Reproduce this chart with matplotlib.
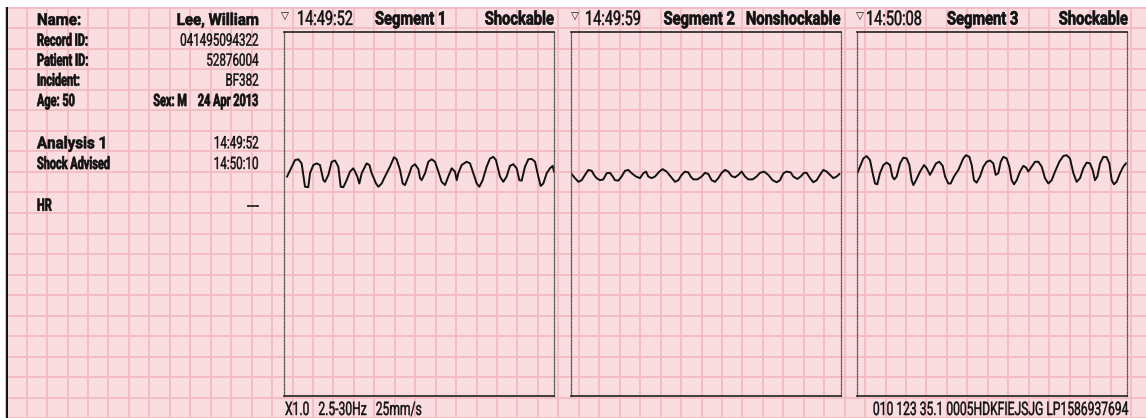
import numpy as np
import matplotlib
matplotlib.use("Agg")
import matplotlib.pyplot as plt
import matplotlib.patheffects as pe
from matplotlib.patches import Rectangle
from matplotlib.transforms import Affine2D

W, H = 1146, 418
PAPER = "#fadde1"
GRID = "#f4bdc4"
INK = "#111111"

# patient block
info_labels = ["Record ID:", "Patient ID:", "Incident:"]
info_values = ["041495094322", "52876004", "BF382"]
patient_name = "Lee, William"
age_text = "Age: 50"
sex_date = "Sex: M    24 Apr 2013"
analysis_title = "Analysis 1"
analysis_time = "14:49:52"
advice_text = "Shock Advised"
advice_time = "14:50:10"
hr_value = "---"

# segment headers
seg_times = ["14:49:52", "14:49:59", "14:50:08"]
seg_names = ["Segment 1", "Segment 2", "Segment 3"]
seg_rhythm = ["Shockable", "Nonshockable", "Shockable"]
footer_left = "X1.0   2.5-30Hz   25mm/s"
footer_right = "010 123 35.1 0005HDKFIEJSJG LP1586937694"

# ECG strips: time (s) and amplitude (mV)
t1 = [0.03, 0.107, 0.14, 0.172, 0.205, 0.237, 0.254, 0.286, 0.319, 0.351,
      0.384, 0.40, 0.433, 0.465, 0.498, 0.53, 0.553, 0.579, 0.611, 0.644,
      0.676, 0.693, 0.715, 0.735, 0.758, 0.806, 0.833, 0.855, 0.898, 0.92,
      0.953, 0.985, 1.034, 1.073, 1.099, 1.132, 1.158, 1.18, 1.213, 1.246,
      1.278, 1.311, 1.327, 1.343, 1.376, 1.408, 1.441, 1.473, 1.506, 1.538,
      1.571, 1.603, 1.636, 1.668, 1.685, 1.701, 1.733, 1.782, 1.815, 1.847,
      1.88, 1.906, 1.938, 1.977, 2.01, 2.042, 2.068, 2.107, 2.14, 2.172,
      2.205, 2.237, 2.27, 2.296, 2.319, 2.351, 2.384, 2.416, 2.449, 2.481,
      2.504, 2.53, 2.563, 2.595, 2.621, 2.634]
v1 = [-0.11, 0.29, 0.31, 0.21, -0.36, -0.37, -0.03, 0.17, 0.21, 0.17,
      -0.20, -0.24, -0.07, 0.25, 0.28, 0.13, -0.36, -0.37, -0.20, 0.01,
      0.09, 0.01, -0.11, -0.28, -0.03, 0.21, 0.17, -0.03, -0.28, -0.36,
      -0.28, -0.11, 0.13, 0.36, 0.31, 0.05, -0.28, -0.32, -0.11, 0.13,
      0.19, 0.07, -0.15, -0.20, -0.03, 0.25, 0.31, 0.25, 0.01, -0.24,
      -0.32, -0.11, 0.09, 0.01, -0.20, -0.03, 0.17, 0.25, 0.21, -0.03,
      -0.28, -0.36, -0.20, 0.13, 0.33, 0.37, 0.29, -0.11, -0.24, -0.11,
      0.15, 0.19, 0.09, -0.20, -0.21, 0.13, 0.31, 0.32, 0.25, -0.11,
      -0.34, -0.28, -0.03, 0.09, 0.15, 0.01]

t2 = [0.0, 0.039, 0.072, 0.104, 0.137, 0.169, 0.202, 0.224, 0.25, 0.283,
      0.315, 0.348, 0.38, 0.407, 0.429, 0.462, 0.494, 0.527, 0.559, 0.592,
      0.634, 0.673, 0.706, 0.732, 0.754, 0.787, 0.82, 0.862, 0.894, 0.933,
      0.972, 1.015, 1.047, 1.08, 1.112, 1.145, 1.167, 1.193, 1.233, 1.275,
      1.307, 1.34, 1.372, 1.405, 1.437, 1.47, 1.502, 1.535, 1.567, 1.6,
      1.633, 1.665, 1.698, 1.73, 1.772, 1.811, 1.844, 1.883, 1.925, 1.967,
      2.007, 2.039, 2.072, 2.104, 2.143, 2.169, 2.208, 2.241, 2.273, 2.299,
      2.332, 2.364, 2.397, 2.429, 2.462, 2.494, 2.527, 2.559, 2.592, 2.618]
v2 = [-0.03, -0.15, -0.24, -0.20, -0.07, 0.05, 0.03, -0.07, -0.15, -0.20,
      -0.18, -0.03, -0.02, -0.11, -0.20, -0.21, -0.11, 0.03, 0.05, -0.03,
      -0.11, -0.15, -0.03, 0.01, -0.11, -0.15, -0.11, 0.01, 0.07, 0.01,
      -0.11, -0.24, -0.20, -0.07, 0.01, -0.01, -0.11, -0.18, -0.18, -0.11,
      -0.02, -0.05, -0.20, -0.24, -0.15, -0.02, 0.05, 0.01, -0.10, -0.13,
      -0.07, 0.01, -0.11, -0.18, -0.18, -0.11, -0.02, 0.01, -0.07, -0.20,
      -0.25, -0.20, -0.03, 0.01, -0.01, -0.11, -0.17, -0.11, -0.02, -0.02,
      -0.15, -0.25, -0.20, -0.07, 0.05, 0.01, -0.07, -0.15, -0.11, -0.05]

t3 = [0.003, 0.029, 0.062, 0.094, 0.127, 0.153, 0.176, 0.198, 0.224, 0.257,
      0.289, 0.322, 0.345, 0.364, 0.387, 0.42, 0.452, 0.485, 0.511, 0.533,
      0.55, 0.576, 0.615, 0.654, 0.68, 0.712, 0.738, 0.771, 0.803, 0.836,
      0.859, 0.891, 0.914, 0.946, 0.989, 1.037, 1.063, 1.096, 1.119, 1.141,
      1.167, 1.2, 1.233, 1.265, 1.298, 1.33, 1.353, 1.379, 1.402, 1.428,
      1.46, 1.486, 1.509, 1.532, 1.558, 1.59, 1.623, 1.649, 1.672, 1.704,
      1.737, 1.769, 1.802, 1.834, 1.867, 1.899, 1.932, 1.974, 2.013, 2.046,
      2.078, 2.111, 2.143, 2.176, 2.208, 2.241, 2.273, 2.299, 2.322, 2.345,
      2.371, 2.403, 2.436, 2.462, 2.485, 2.507, 2.533, 2.566, 2.598, 2.624]
v3 = [-0.03, 0.13, 0.33, 0.39, 0.29, -0.03, -0.28, -0.30, -0.03, 0.17,
      0.23, 0.17, -0.11, -0.18, -0.11, 0.21, 0.35, 0.33, 0.17, -0.20,
      -0.32, -0.20, 0.01, 0.17, 0.09, -0.07, 0.05, 0.21, 0.25, 0.15,
      -0.11, -0.28, -0.28, -0.11, 0.05, 0.33, 0.41, 0.37, 0.17, -0.20,
      -0.26, -0.11, 0.13, 0.25, 0.28, 0.21, -0.07, -0.03, 0.25, 0.37,
      0.33, 0.13, -0.20, -0.30, -0.20, 0.01, 0.15, 0.11, 0.01, 0.13,
      0.25, 0.25, 0.13, -0.15, -0.28, -0.20, 0.01, 0.25, 0.39, 0.41,
      0.33, -0.03, -0.24, -0.15, 0.09, 0.23, 0.21, 0.05, -0.20, -0.11,
      0.21, 0.37, 0.36, 0.21, -0.20, -0.30, -0.24, -0.03, 0.13, 0.21]

strips = [(t1, v1), (t2, v2), (t3, v3)]


class Narrow(pe.AbstractPathEffect):
    """Squeeze glyphs horizontally around the anchor edge, with an optional
    outline stroke to make them heavier."""

    def __init__(self, sx, anchor="left", lw=0.0):
        super().__init__()
        self.sx = sx
        self.anchor = anchor
        self.lw = lw

    def draw_path(self, renderer, gc, tpath, affine, rgbFace=None):
        if self.anchor == "right":
            x0 = tpath.get_extents(affine).x1
        else:
            x0 = affine.transform((0, 0))[0]
        squeeze = Affine2D().translate(-x0, 0).scale(self.sx, 1).translate(x0, 0)
        gc0 = renderer.new_gc()
        gc0.copy_properties(gc)
        if self.lw and rgbFace is not None:
            gc0.set_linewidth(self.lw)
            gc0.set_foreground(rgbFace)
        renderer.draw_path(gc0, tpath, affine + squeeze, rgbFace)
        gc0.restore()


# (weight, size in pt, horizontal squeeze, extra stroke)
STYLES = {
    "heavy": ("bold", 11.8, 0.92, 0.45),
    "cbold": ("bold", 12.3, 0.64, 0.5),
    "creg": ("normal", 12.3, 0.68, 0.3),
    "htime": ("normal", 14.5, 0.72, 0.35),
    "hbold": ("bold", 13.4, 0.79, 0.5),
    "foot": ("normal", 13.4, 0.65, 0.3),
}


def label(ax, x, y, s, style, ha="left"):
    weight, size, sx, lw = STYLES[style]
    ax.text(x, y, s, family=["Roboto", "DejaVu Sans"], weight=weight, fontsize=size,
            color=INK, ha=ha, va="baseline",
            path_effects=[Narrow(sx, "right" if ha == "right" else "left", lw)])


fig = plt.figure(figsize=(W / 100, H / 100), dpi=100, facecolor="white")

# paper + grid in pixel units
bg = fig.add_axes([0, 0, 1, 1])
bg.set_xlim(0, W)
bg.set_ylim(H, 0)
bg.axis("off")
bg.add_patch(Rectangle((6.2, 7), W - 6.2, H - 7, facecolor=PAPER, edgecolor="none"))
gx = np.arange(6.2, W, 20.45)
gy = np.arange(7.8, H + 1, 20.52)
bg.vlines(gx, 7, H, color=GRID, lw=1.4)
bg.hlines(gy, 6.2, W, color=GRID, lw=1.4)
bg.vlines([6.5], 7, H, color=INK, lw=1.4)

# left info column
lx, rx = 37, 259
label(bg, lx, 25, "Name:", "heavy")
label(bg, rx, 25, patient_name, "heavy", ha="right")
for i, (lab, val) in enumerate(zip(info_labels, info_values)):
    y = 45.7 + 20 * i
    label(bg, lx, y, lab, "cbold")
    label(bg, rx, y, val, "creg", ha="right")
label(bg, lx, 106, age_text, "cbold")
label(bg, rx, 106, sex_date, "cbold", ha="right")
label(bg, lx, 148.3, analysis_title, "heavy")
label(bg, rx, 148.3, analysis_time, "creg", ha="right")
label(bg, lx, 169, advice_text, "cbold")
label(bg, rx, 169, advice_time, "creg", ha="right")
label(bg, lx, 210.7, "HR", "cbold")
label(bg, rx, 210.7, hr_value, "cbold", ha="right")

# segment strips
box_left = [284, 571, 857]
tri_x = [281, 571, 856]
time_x = [297, 585, 866]
name_x = [375, 661, 947]
rhythm_r = [554, 841, 1128]
box_w, box_top, box_bot = 270, 32, 396
sec_per_px = 0.2 / 20.5
mv_per_px = 0.5 / 20.5
zero_y = 172

for k, (t, v) in enumerate(strips):
    ax = fig.add_axes([box_left[k] / W, (H - box_bot) / H, box_w / W, (box_bot - box_top) / H])
    ax.patch.set_alpha(0)
    ax.set_xlim(0, box_w * sec_per_px)
    ax.set_ylim(-(box_bot - zero_y) * mv_per_px, (zero_y - box_top) * mv_per_px)
    ax.set_xticks([])
    ax.set_yticks([])
    for side in ("top", "bottom"):
        ax.spines[side].set_color("#222222")
        ax.spines[side].set_linewidth(1.2)
    for side in ("left", "right"):
        ax.spines[side].set_linestyle((0, (1, 1.2)))
        ax.spines[side].set_color("#555555")
        ax.spines[side].set_linewidth(0.9)
    ax.plot(t, v, color=INK, lw=1.4)

    bg.text(tri_x[k], 18.5, "\u25bd", family="DejaVu Sans", fontsize=7.5, color=INK)
    label(bg, time_x[k], 25, seg_times[k], "htime")
    if seg_rhythm[k] == "Nonshockable":
        # name and rhythm sit close together on this strip
        label(bg, rhythm_r[k], 24.5, seg_names[k] + "   " + seg_rhythm[k], "hbold", ha="right")
    else:
        label(bg, name_x[k], 24.5, seg_names[k], "hbold")
        label(bg, rhythm_r[k], 24.5, seg_rhythm[k], "hbold", ha="right")

# footer
label(bg, 285, 415, footer_left, "foot")
label(bg, 1127, 415, footer_right, "foot", ha="right")

fig.savefig("out.png", dpi=100, facecolor="white")
